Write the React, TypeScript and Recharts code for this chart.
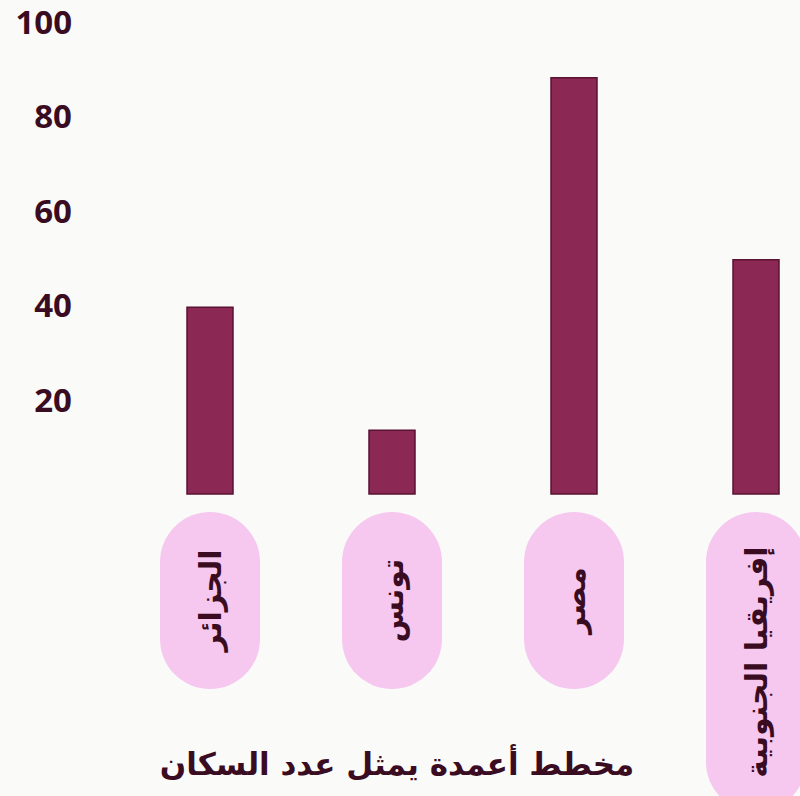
import React from "react";
import { BarChart, Bar, XAxis, YAxis, Label } from "recharts";

const countries = ["الجزائر", "تونس", "مصر", "إفريقيا الجنوبية"];
const population = [39.5, 13.5, 88, 49.5];
const yTicks = [20, 40, 60, 80, 100];
const title = "مخطط أعمدة يمثل عدد السكان";

const data = countries.map((name, i) => ({ name, value: population[i] }));

const BAR_COLOR = "#8b2853";
const BAR_EDGE = "#5a1232";
const PILL = "#f6c8ef";
const INK = "#3a0c22";
const ARABIC_FONT = "'DejaVu Sans', sans-serif";

const YTick = (props: any) => {
  const { x, y, payload } = props;
  return (
    <text
      x={x}
      y={y}
      textAnchor="end"
      dominantBaseline="central"
      fill={INK}
      fontFamily="'Open Sans', sans-serif"
      fontWeight={700}
      fontSize={33}
    >
      {payload.value}
    </text>
  );
};

const XTick = (props: any) => {
  const { x, y, payload, index } = props;
  const last = index === countries.length - 1;
  const w = 100;
  const top = y + 18;
  const h = last ? 300 : 177;
  const cy = top + h / 2;
  return (
    <g>
      <rect x={x - w / 2} y={top} width={w} height={h} rx={w / 2} ry={w / 2} fill={PILL} />
      <text
        x={x}
        y={cy}
        transform={`rotate(-90 ${x} ${cy})`}
        textAnchor="middle"
        dominantBaseline="central"
        fill={INK}
        fontFamily={ARABIC_FONT}
        fontWeight={700}
        fontSize={30}
        direction="rtl"
      >
        {payload.value}
      </text>
    </g>
  );
};

const TitleLabel = () => (
  <text
    x={397}
    y={764}
    textAnchor="middle"
    dominantBaseline="central"
    fill={INK}
    fontFamily={ARABIC_FONT}
    fontWeight={700}
    fontSize={31}
    direction="rtl"
  >
    {title}
  </text>
);

export default function App() {
  return (
    <div
      style={{
        position: "absolute",
        left: 0,
        top: 0,
        width: 800,
        height: 796,
        overflow: "hidden",
        background: "#fafaf9",
      }}
    >
      <BarChart
        width={848}
        height={796}
        data={data}
        margin={{ top: 21, right: 1, bottom: 0, left: 0 }}
      >
        <YAxis
          type="number"
          domain={[0, 100]}
          ticks={yTicks}
          width={119}
          axisLine={false}
          tickLine={false}
          tickSize={0}
          tickMargin={47}
          tick={<YTick />}
          interval={0}
        />
        <XAxis
          dataKey="name"
          height={302}
          axisLine={false}
          tickLine={false}
          tickSize={0}
          tickMargin={0}
          interval={0}
          tick={<XTick />}
        >
          <Label content={<TitleLabel />} />
        </XAxis>
        <Bar
          dataKey="value"
          fill={BAR_COLOR}
          stroke={BAR_EDGE}
          strokeWidth={1.5}
          barSize={46}
          isAnimationActive={false}
        />
      </BarChart>
    </div>
  );
}
